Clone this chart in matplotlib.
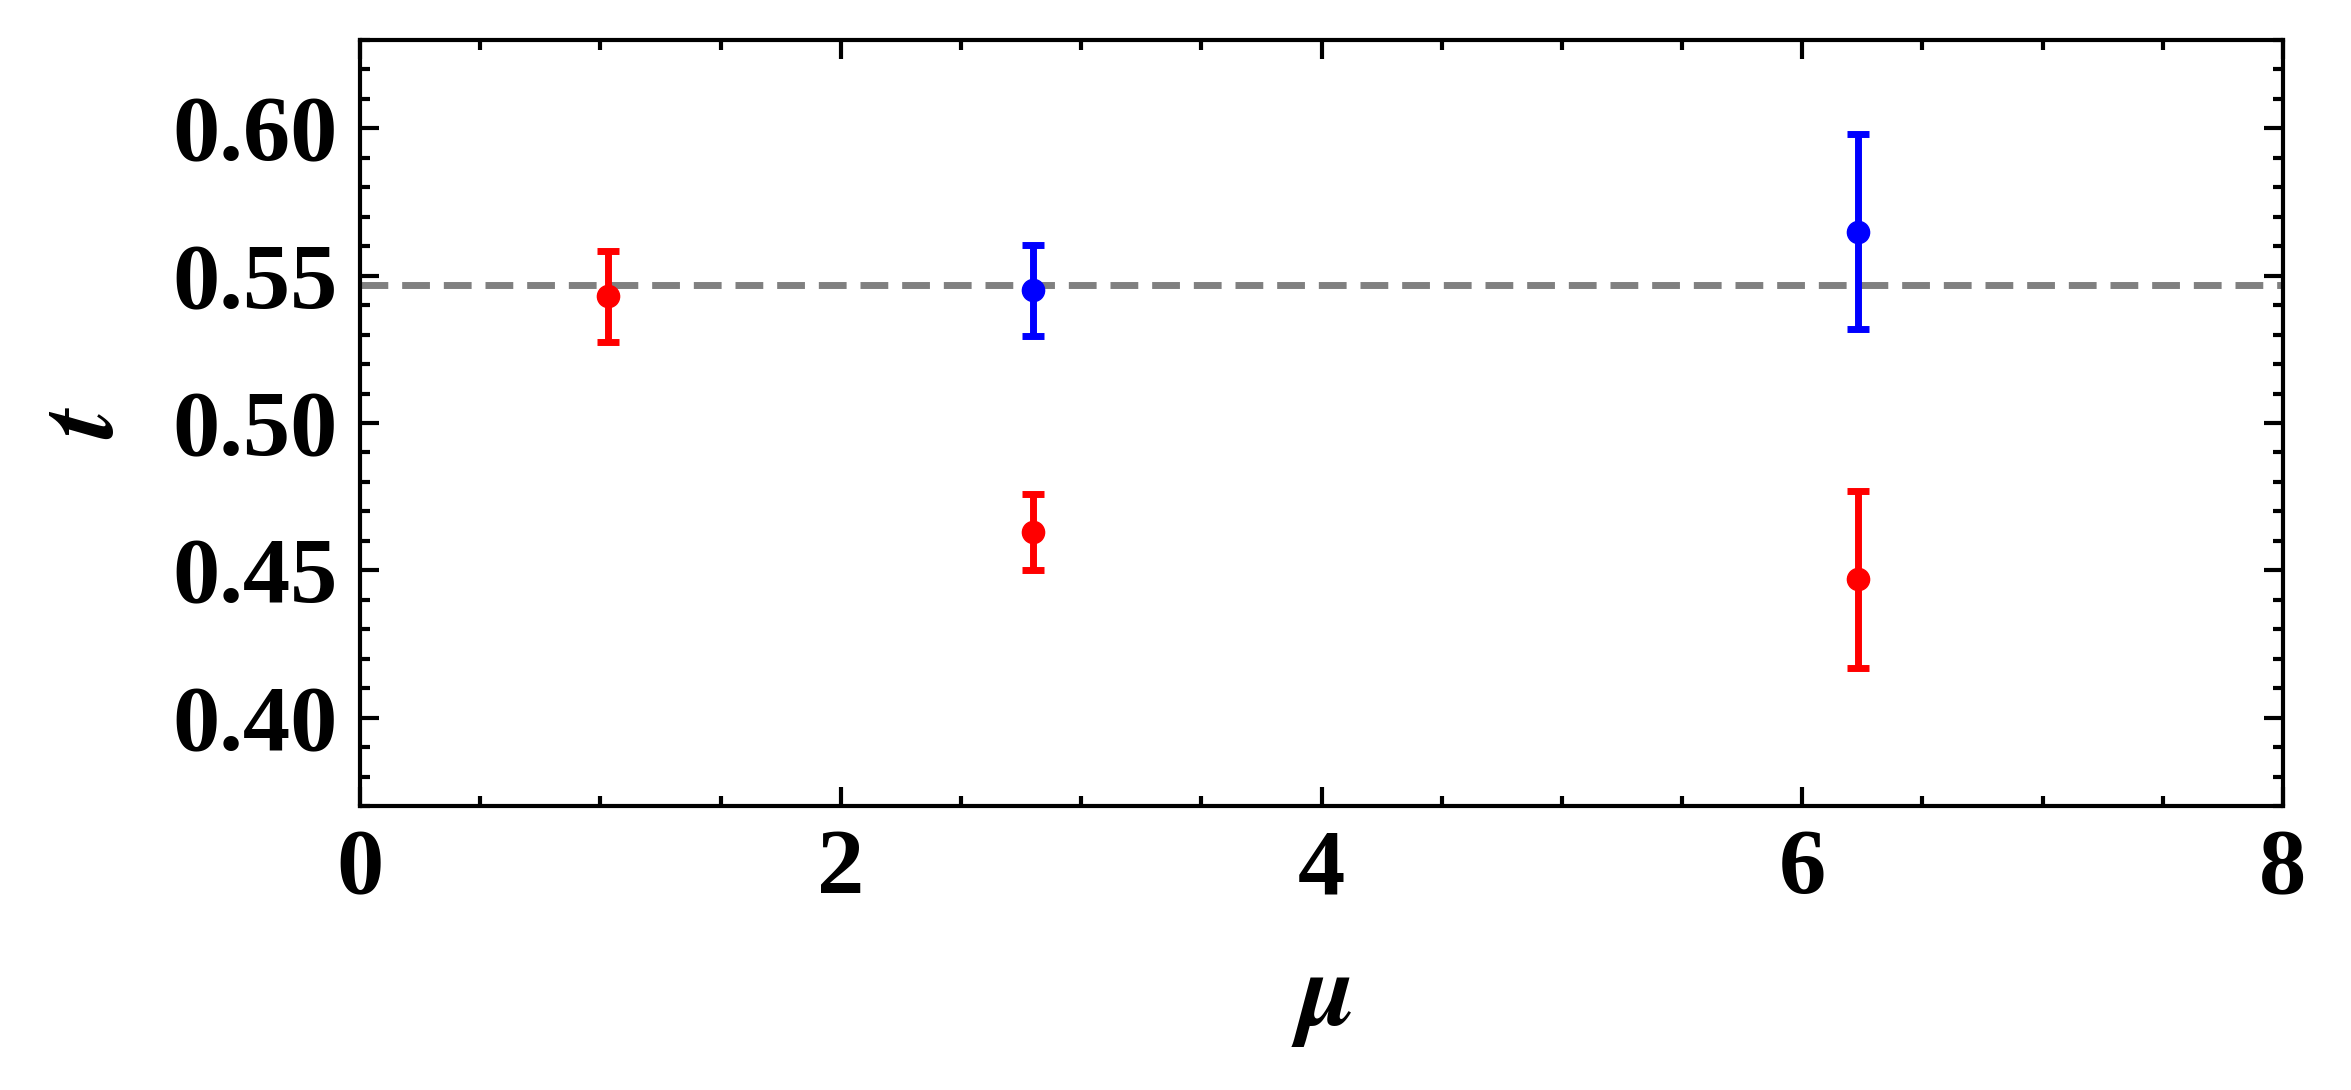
import numpy as np
import matplotlib
matplotlib.use('Agg')
import matplotlib.pyplot as plt
from matplotlib.ticker import MultipleLocator

plt.rcParams['font.family'] = ['Liberation Serif', 'DejaVu Serif']
plt.rcParams['mathtext.fontset'] = 'stix'

# data
red_x = [1.03, 2.80, 6.23]
red_y = [0.543, 0.463, 0.447]
red_err = [0.0155, 0.013, 0.030]

blue_x = [2.80, 6.23]
blue_y = [0.545, 0.565]
blue_err = [0.0155, 0.033]

t_ref = 0.547

fig = plt.figure(figsize=(23.51, 10.9), dpi=100)
ax = fig.add_axes([360/2351, 1-806/1090, (2283-360)/2351, (806-40)/1090])

ax.axhline(t_ref, color='gray', ls=(0, (4, 2)), lw=5, zorder=1)
ax.errorbar(red_x, red_y, yerr=red_err, fmt='o', color='red', ms=16,
            elinewidth=5, capsize=8, capthick=5, zorder=3)
ax.errorbar(blue_x, blue_y, yerr=blue_err, fmt='o', color='blue', ms=16,
            elinewidth=5, capsize=8, capthick=5, zorder=3)

ax.set_xlim(0, 8)
ax.set_ylim(0.37, 0.63)
ax.xaxis.set_major_locator(MultipleLocator(2))
ax.xaxis.set_minor_locator(MultipleLocator(0.5))
ax.yaxis.set_major_locator(MultipleLocator(0.05))
ax.yaxis.set_minor_locator(MultipleLocator(0.01))
ax.yaxis.set_major_formatter(plt.FormatStrFormatter('%.2f'))

ax.tick_params(which='both', direction='in', top=True, right=True, width=3)
ax.tick_params(which='major', length=14, labelsize=68, pad=16)
ax.tick_params(which='minor', length=7)
for lab in ax.get_xticklabels() + ax.get_yticklabels():
    lab.set_fontweight('bold')
for s in ax.spines.values():
    s.set_linewidth(3)

ax.set_xlabel(r'$\boldsymbol{\mu}$', fontsize=76, labelpad=28)
ax.set_ylabel(r'$\boldsymbol{t}$', fontsize=76, labelpad=26)

fig.savefig('out.png', dpi=100)
